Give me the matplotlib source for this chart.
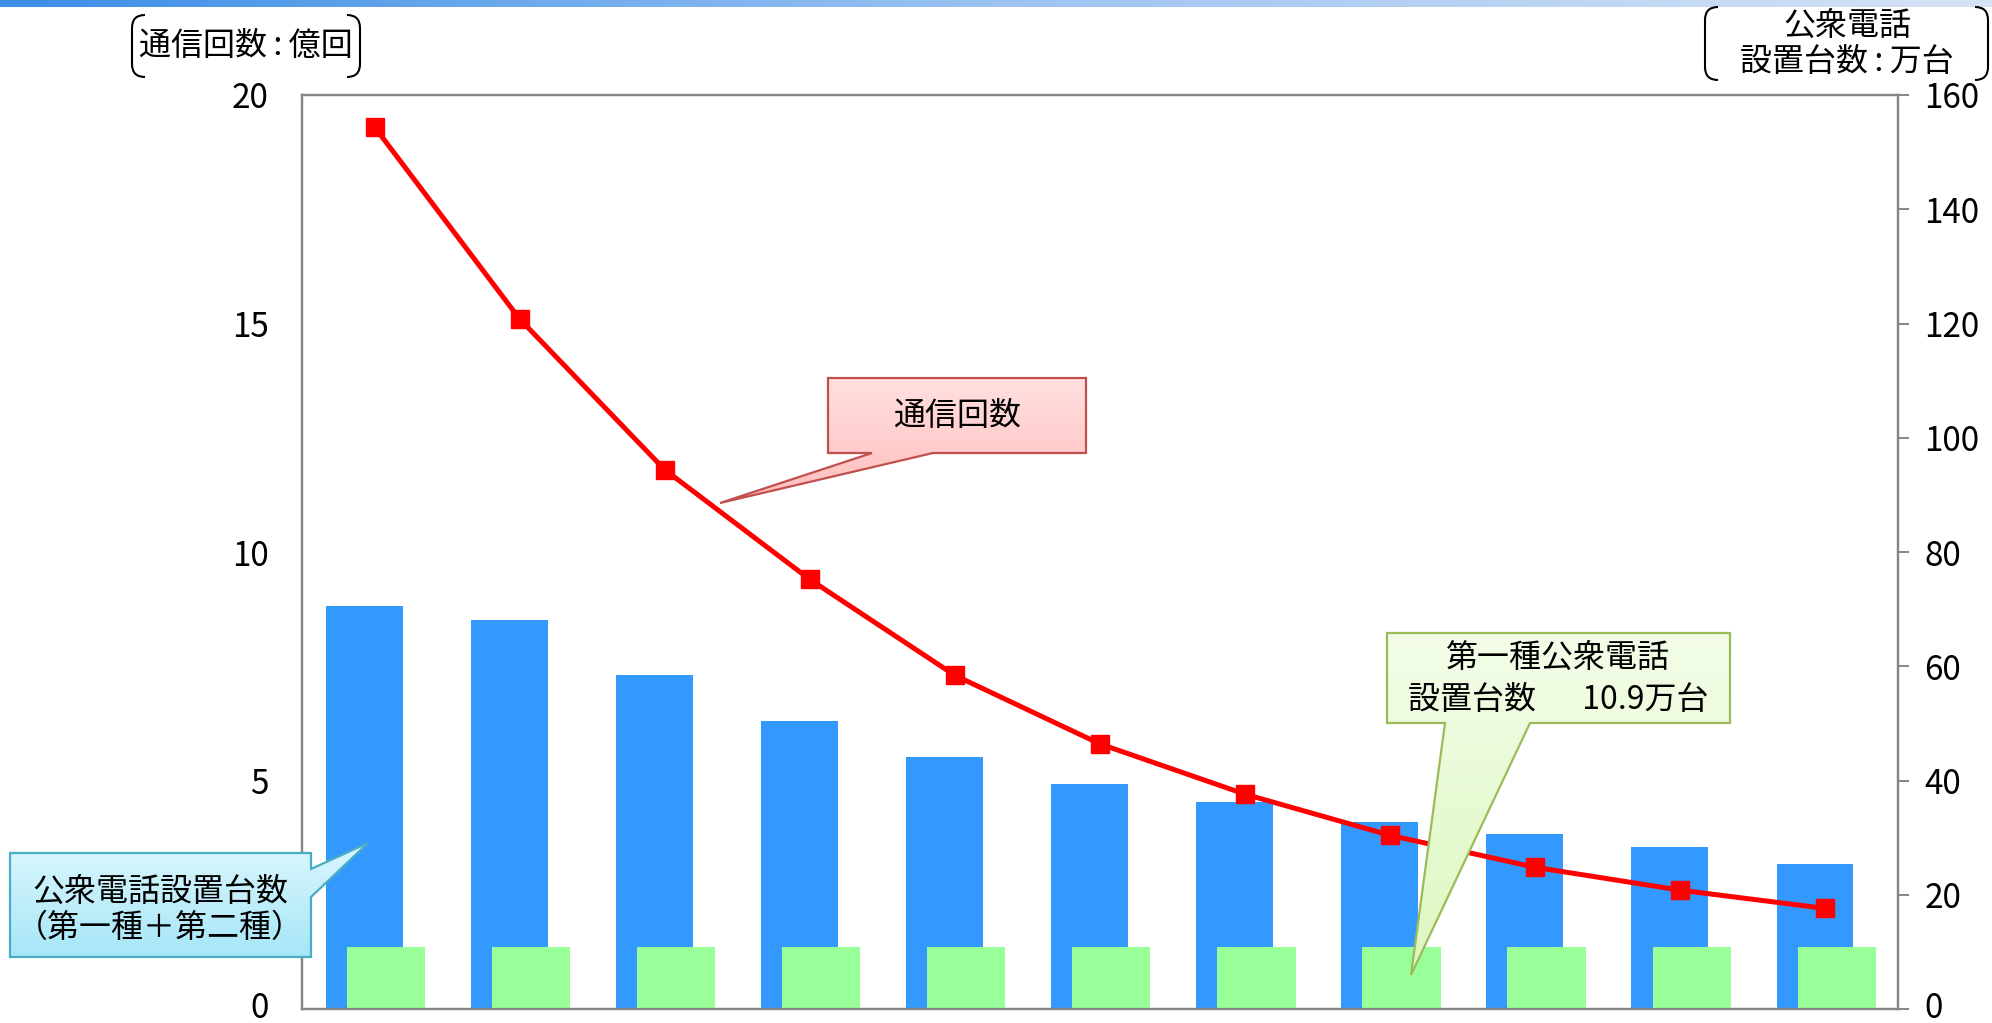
import numpy as np
import matplotlib
matplotlib.use('Agg')
import matplotlib.pyplot as plt
from matplotlib.patches import Polygon, PathPatch
from matplotlib.path import Path
from matplotlib.colors import LinearSegmentedColormap
from matplotlib.transforms import ScaledTranslation

plt.rcParams['font.family'] = ['Noto Sans CJK JP', 'DejaVu Sans']

# data (11 years, no x labels)
periods = np.arange(11)
calls = [19.3, 15.1, 11.8, 9.4, 7.3, 5.8, 4.7, 3.8, 3.1, 2.6, 2.2]                 # 億回
phones_total = [70.6, 68.1, 58.4, 50.4, 44.2, 39.3, 36.2, 32.8, 30.6, 28.3, 25.3]  # 万台
phones_type1 = [10.9] * 11                                                         # 万台

left_ticks = [0, 5, 10, 15, 20]
right_ticks = [0, 20, 40, 60, 80, 100, 120, 140, 160]
grid_right = [40, 80, 120, 160]

W, H = 1992, 1023
GRAY = '#868686'


def gradient_shape(ov, pts, top, bottom, edge):
    poly = Polygon(pts, closed=True, facecolor='none', edgecolor=edge, lw=1.6, zorder=3)
    ov.add_patch(poly)
    xs = [p[0] for p in pts]
    ys = [p[1] for p in pts]
    cmap = LinearSegmentedColormap.from_list('g', [top, bottom])
    grad = np.linspace(0, 1, 256).reshape(-1, 1)
    im = ov.imshow(grad, cmap=cmap, aspect='auto', interpolation='bilinear',
                   extent=(min(xs), max(xs), max(ys), min(ys)), zorder=2)
    im.set_clip_path(poly)


def brackets(ov, x0, x1, y0, y1, r=13):
    codes = [Path.MOVETO, Path.CURVE3, Path.CURVE3, Path.LINETO, Path.CURVE3, Path.CURVE3]
    left = [(x0 + r, y0), (x0, y0), (x0, y0 + r), (x0, y1 - r), (x0, y1), (x0 + r, y1)]
    right = [(x1 - r, y0), (x1, y0), (x1, y0 + r), (x1, y1 - r), (x1, y1), (x1 - r, y1)]
    for v in (left, right):
        ov.add_patch(PathPatch(Path(v, codes), facecolor='none', edgecolor='black', lw=1.5))


fig = plt.figure(figsize=(W / 100, H / 100), dpi=100)
rect = [302 / W, 1 - 1009 / H, (1898 - 302) / W, (1009 - 95) / H]

ax = fig.add_axes(rect)
ax2 = ax.twinx()
ax.set_zorder(2)
ax.patch.set_visible(False)

# bars on the right axis
ax2.bar(periods - 0.072, phones_total, width=0.53, color='#3399ff', zorder=2)
ax2.bar(periods + 0.078, phones_type1, width=0.54, color='#99ff99', zorder=3)
ax2.set_ylim(0, 160)
ax2.set_yticks(right_ticks)
ax2.set_yticks(grid_right, minor=True)
ax2.grid(axis='y', which='minor', color='#8c8c8c', lw=1.4, zorder=0)
ax2.tick_params(axis='y', which='major', length=8, width=1.4, color=GRAY, pad=11, labelsize=24)
ax2.tick_params(axis='y', which='minor', length=0)

# line on the left axis
ax.plot(periods, calls, color='#ff0000', lw=3.6, marker='s', markersize=12.5, zorder=4)
ax.set_ylim(0, 20)
ax.set_yticks(left_ticks)
ax.set_xlim(-0.5, 10.5)
ax.set_xticks([])
ax.tick_params(axis='y', length=0, pad=24, labelsize=24)

for a in (ax, ax2):
    for s in a.spines.values():
        s.set_color(GRAY)
        s.set_linewidth(1.6)

# keep the two "0" labels inside the picture
lift = ScaledTranslation(0, 5 / 100, fig.dpi_scale_trans)
for a in (ax, ax2):
    lbl = a.yaxis.get_major_ticks()[0]
    for t in (lbl.label1, lbl.label2):
        t.set_transform(t.get_transform() + lift)

# overlay in pixel coordinates for the decorations
ov = fig.add_axes([0, 0, 1, 1], zorder=5)
ov.axis('off')

top_cmap = LinearSegmentedColormap.from_list('t', ['#3a8ee6', '#9cc3f2', '#d6e3f5'])
ov.imshow(np.linspace(0, 1, 256).reshape(1, -1), cmap=top_cmap, aspect='auto',
          extent=(0, W, 7, 0), zorder=1)

# axis titles with brackets
brackets(ov, 132, 360, 15, 77)
ov.text(246, 46, '通信回数\u2009:\u2009億回', ha='center', va='center', fontsize=23)
brackets(ov, 1705, 1988, 7, 80)
ov.text(1847, 26, '公衆電話', ha='center', va='center', fontsize=23)
ov.text(1847, 62, '設置台数\u2009:\u2009万台', ha='center', va='center', fontsize=23)

# callouts
gradient_shape(ov, [(828, 378), (1086, 378), (1086, 453), (933, 453), (720, 503),
                    (872, 453), (828, 453)], '#ffe0e0', '#ffbcbc', '#c0504d')
ov.text(957, 416, '通信回数', ha='center', va='center', fontsize=23)

gradient_shape(ov, [(1387, 633), (1730, 633), (1730, 723), (1530, 723), (1411, 975),
                    (1445, 723), (1387, 723)], '#f3fde8', '#ddf7c0', '#9bbb59')
ov.text(1558, 658, '第一種公衆電話', ha='center', va='center', fontsize=23)
ov.text(1558, 700, '設置台数　  10.9万台', ha='center', va='center', fontsize=23)

gradient_shape(ov, [(10, 853), (311, 853), (311, 869), (368, 843), (311, 897),
                    (311, 957), (10, 957)], '#dbf7fd', '#a6e6f8', '#4bacc6')
ov.text(160, 892, '公衆電話設置台数', ha='center', va='center', fontsize=23)
ov.text(160, 928, '（第一種＋第二種）', ha='center', va='center', fontsize=23)

ov.set_xlim(0, W)
ov.set_ylim(H, 0)

fig.savefig('out.png', dpi=100)
